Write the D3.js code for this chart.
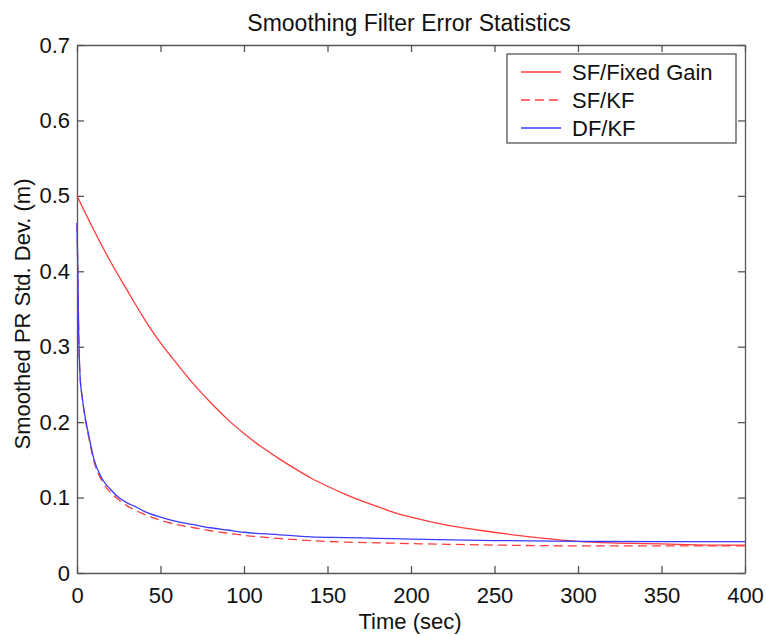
<!DOCTYPE html>
<html>
<head>
<meta charset="utf-8">
<script src="https://cdn.jsdelivr.net/npm/d3@7"></script>
<style>
  body { margin: 0; background: #fff; }
  text { font-family: "Liberation Sans", Arial, sans-serif; fill: #111; }
</style>
</head>
<body>
<div id="chart"></div>
<script>
var width = 766, height = 636;
var margin = {top: 45, right: 21, bottom: 63, left: 77};

// values
var fixedTime = [0, 10, 20, 30, 40, 50, 60, 70, 80, 90, 100, 110, 120, 130, 140, 150, 160, 170, 180, 190, 200, 220, 240, 260, 280, 300, 320, 340, 360, 380, 400];
var fixedGain = [0.500, 0.455, 0.413, 0.375, 0.338, 0.305, 0.277, 0.250, 0.226, 0.204, 0.185, 0.168, 0.153, 0.139, 0.126, 0.115, 0.105, 0.096, 0.088, 0.080, 0.074, 0.064, 0.057, 0.051, 0.046, 0.042, 0.040, 0.039, 0.038, 0.037, 0.037];

var kfTime = [0, 0.5, 1, 2, 3, 5, 7, 10, 15, 20, 25, 30, 35, 40, 50, 60, 70, 80, 90, 100, 120, 140, 160, 180, 200, 250, 300, 350, 400];
var sfKF = [0.464, 0.400, 0.320, 0.255, 0.235, 0.203, 0.180, 0.149, 0.122, 0.107, 0.097, 0.089, 0.083, 0.078, 0.070, 0.064, 0.060, 0.056, 0.053, 0.050, 0.046, 0.043, 0.041, 0.040, 0.039, 0.037, 0.036, 0.036, 0.036];
var dfKF = [0.464, 0.400, 0.320, 0.255, 0.235, 0.205, 0.183, 0.152, 0.125, 0.111, 0.100, 0.093, 0.088, 0.082, 0.074, 0.068, 0.064, 0.060, 0.057, 0.054, 0.051, 0.048, 0.047, 0.046, 0.045, 0.043, 0.042, 0.0415, 0.0415];

var xTicks = [0, 50, 100, 150, 200, 250, 300, 350, 400];
var yTicks = [0, 0.1, 0.2, 0.3, 0.4, 0.5, 0.6, 0.7];
var seriesNames = ["SF/Fixed Gain", "SF/KF", "DF/KF"];

var red = "#ff3b3b", blue = "#3b3bff", axisColor = "#555";

var svg = d3.select("#chart").append("svg")
    .attr("width", width)
    .attr("height", height);

var x = d3.scaleLinear().domain([0, 400]).range([margin.left, width - margin.right]);
var y = d3.scaleLinear().domain([0, 0.7]).range([height - margin.bottom, margin.top]);

var fmtY = function(d) { return d === 0 ? "0" : d3.format(".1f")(d); };

// axes, ticks pointing inward on all four sides
svg.append("g")
    .attr("transform", "translate(0," + y(0) + ")")
    .call(d3.axisBottom(x).tickValues(xTicks).tickSizeInner(-7).tickSizeOuter(0).tickPadding(14));
svg.append("g")
    .attr("transform", "translate(0," + y(0.7) + ")")
    .call(d3.axisTop(x).tickValues(xTicks).tickSizeInner(-7).tickSizeOuter(0).tickFormat(""));
svg.append("g")
    .attr("transform", "translate(" + x(0) + ",0)")
    .call(d3.axisLeft(y).tickValues(yTicks).tickSizeInner(-7).tickSizeOuter(0).tickPadding(7).tickFormat(fmtY));
svg.append("g")
    .attr("transform", "translate(" + x(400) + ",0)")
    .call(d3.axisRight(y).tickValues(yTicks).tickSizeInner(-7).tickSizeOuter(0).tickFormat(""));

svg.selectAll(".domain").attr("stroke", axisColor).attr("stroke-width", 1.3);
svg.selectAll(".tick line").attr("stroke", axisColor).attr("stroke-width", 1.3);
svg.selectAll(".tick text")
    .style("font-size", "22px")
    .style("font-family", "'Liberation Sans', Arial, sans-serif")
    .attr("fill", "#111");

var line = d3.line()
    .x(function(d) { return x(d[0]); })
    .y(function(d) { return y(d[1]); })
    .curve(d3.curveMonotoneX);

svg.append("path")
    .datum(d3.zip(fixedTime, fixedGain))
    .attr("fill", "none").attr("stroke", red).attr("stroke-width", 1.3)
    .attr("d", line);
svg.append("path")
    .datum(d3.zip(kfTime, sfKF))
    .attr("fill", "none").attr("stroke", red).attr("stroke-width", 1.3)
    .attr("stroke-dasharray", "9,5")
    .attr("d", line);
svg.append("path")
    .datum(d3.zip(kfTime, dfKF))
    .attr("fill", "none").attr("stroke", blue).attr("stroke-width", 1.3)
    .attr("d", line);

// title and axis labels
svg.append("text")
    .attr("x", 409).attr("y", 31)
    .attr("text-anchor", "middle")
    .style("font-size", "23px")
    .text("Smoothing Filter Error Statistics");
svg.append("text")
    .attr("x", 410).attr("y", 629)
    .attr("text-anchor", "middle")
    .style("font-size", "22px")
    .text("Time (sec)");
svg.append("text")
    .attr("transform", "translate(30,314) rotate(-90)")
    .attr("text-anchor", "middle")
    .style("font-size", "22px")
    .text("Smoothed PR Std. Dev. (m)");

// legend
var legend = svg.append("g");
legend.append("rect")
    .attr("x", 507).attr("y", 54)
    .attr("width", 229).attr("height", 89)
    .attr("fill", "#fff").attr("stroke", axisColor).attr("stroke-width", 1.3);

var styles = [
  {color: red, dash: null},
  {color: red, dash: "9,5"},
  {color: blue, dash: null}
];
seriesNames.forEach(function(name, i) {
  var yy = 72 + i * 28;
  legend.append("line")
      .attr("x1", 521).attr("x2", 561)
      .attr("y1", yy).attr("y2", yy)
      .attr("stroke", styles[i].color).attr("stroke-width", 1.3)
      .attr("stroke-dasharray", styles[i].dash);
  legend.append("text")
      .attr("x", 572).attr("y", yy + 8)
      .style("font-size", "22px")
      .text(name);
});
</script>
</body>
</html>
